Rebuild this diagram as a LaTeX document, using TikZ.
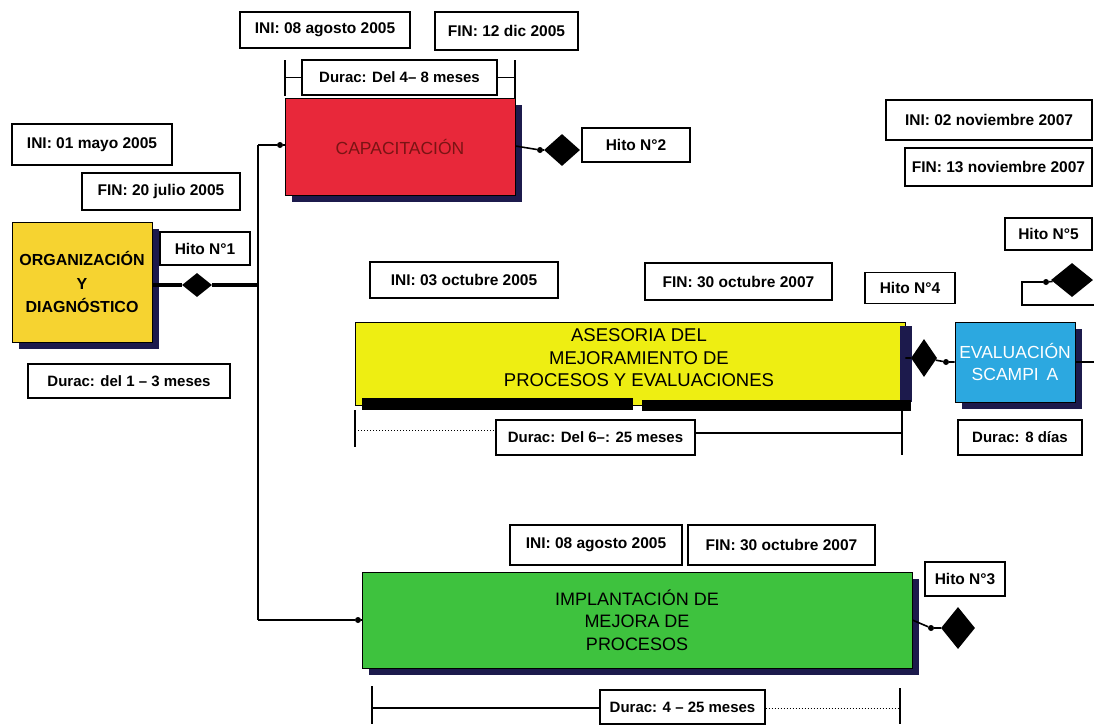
\documentclass[tikz,border=0pt]{standalone}
\usepackage{fontspec}
\setmainfont{Liberation Sans}
\usetikzlibrary{shapes.geometric,shadows}

\definecolor{orgyellow}{HTML}{F6D330}
\definecolor{capred}{HTML}{E8283A}
\definecolor{captext}{HTML}{7A1414}
\definecolor{asyellow}{HTML}{EEEE12}
\definecolor{evcyan}{HTML}{2CA8E0}
\definecolor{impgreen}{HTML}{3EC23E}
\definecolor{shadowc}{HTML}{1C1A4C}

\tikzset{
  lbl/.style={draw, line width=1.1pt, fill=white, inner sep=0pt,
    font=\bfseries\fontsize{15.5}{17}\selectfont},
  durlbl/.style={lbl, font=\bfseries\fontsize{15}{17}\selectfont},
  task/.style={draw=black, line width=0.8pt, inner sep=0pt, align=center,
    drop shadow={shadow xshift=7pt, shadow yshift=-7pt, fill=shadowc, opacity=1}},
  conn/.style={line width=1.6pt},
  tick/.style={line width=1.2pt},
  ms/.style={diamond, fill=black, inner sep=0pt},
  jdot/.style={circle, fill=black, inner sep=0pt, minimum size=6pt},
}

\begin{document}
\begin{tikzpicture}[x=1pt,y=-1pt]
\useasboundingbox (0,0) rectangle (1094,724);
\fill[white] (0,0) rectangle (1094,724);

% ---------- phase 1: organisation ----------
\node[lbl, minimum width=160pt, minimum height=41pt] (ini1) at (92,144.5) {INI: 01 mayo 2005};
\node[lbl, minimum width=158pt, minimum height=37pt] (fin1) at (161,191.5) {FIN: 20 julio 2005};
\node[lbl, minimum width=90pt, minimum height=33pt] (hito1) at (205,248.5) {Hito N°1};
\node[task, fill=orgyellow, minimum width=140pt, minimum height=120pt,
  font=\bfseries\fontsize{16}{23.5}\selectfont] (org) at (82,282)
  {ORGANIZACIÓN\\Y\\DIAGNÓSTICO};
\node[durlbl, minimum width=202pt, minimum height=34pt] (dur1) at (129,381) {Durac: del 1 – 3 meses};

% trunk line feeding the later phases
\coordinate (jn) at (258,285);
\coordinate (tt) at (258,145);
\coordinate (tb) at (258,620);
\node[ms, minimum width=30pt, minimum height=24pt] (m1) at (197,285) {};
\draw[line width=4pt] (org.east |- jn) -- (m1) -- (jn);
\draw[conn] (tt) -- (tb);

% ---------- phase 2: training ----------
\node[lbl, minimum width=170pt, minimum height=36pt] (ini2) at (325,30) {INI: 08 agosto 2005};
\node[lbl, minimum width=143pt, minimum height=38pt] (fin2) at (506.5,31) {FIN: 12 dic 2005};
\node[task, fill=capred, minimum width=230pt, minimum height=97pt,
  font=\fontsize{17.5}{19}\selectfont, text=captext] (cap) at (400,146.5) {CAPACITACIÓN};
\coordinate (c2l) at (285,60);
\coordinate (c2r) at (515,60);
\draw[tick] (c2l) -- ++(0,36);
\draw[tick] (c2r) -- ++(0,38);
\node[durlbl, minimum width=195pt, minimum height=35pt] (dur2) at (399.5,77.5) {Durac: Del 4– 8 meses};
\draw[tick] (c2l |- dur2) -- (dur2.west);
\draw[tick] (dur2.east) -- (c2r |- dur2);
\node[jdot] (d2a) at (280,145) {};
\draw[conn] (tt) -- (d2a) -- (cap.west |- d2a);
\node[lbl, minimum width=108pt, minimum height=34pt] (hito2) at (636,145) {Hito N°2};
\node[jdot] (d2b) at (540,150) {};
\node[ms, minimum width=36pt, minimum height=32pt] (m2) at (562,150) {};
\draw[conn] (cap.east |- 0,146) -- (d2b) -- (m2);

% ---------- phase 3: advisory ----------
\node[lbl, minimum width=188pt, minimum height=36pt] (ini3) at (464,280) {INI: 03 octubre 2005};
\node[lbl, minimum width=187pt, minimum height=37pt] (fin3) at (738.5,281.5) {FIN: 30 octubre 2007};
\node[lbl, minimum width=90pt, minimum height=31pt] (hito4) at (910,288) {Hito N°4};
\node[draw=black, line width=0.8pt, fill=asyellow, inner sep=0pt,
  minimum width=550pt, minimum height=83pt] (ases) at (630,363.5) {};
\node[align=center, inner sep=0pt, font=\fontsize{18.5}{22.5}\selectfont]
  (astext) at (639,358) {ASESORIA DEL\\MEJORAMIENTO DE\\PROCESOS Y EVALUACIONES};
\fill[shadowc] (ases.north east) ++(-5,4) rectangle ++(12,76);
\fill[black] (362,398) rectangle (633,410);
\fill[black] (642,400) rectangle (911,411);
\coordinate (c3l) at (355,410);
\coordinate (c3r) at (902,410);
\draw[tick] (c3l) -- ++(0,37);
\draw[tick] (c3r) -- ++(0,45);
\node[durlbl, minimum width=199pt, minimum height=35pt] (dur3) at (595.5,437.5) {Durac: Del 6–: 25 meses};
\draw[line width=1pt, dotted] (c3l |- 0,430) -- (dur3.west |- 0,430);
\draw[tick] (dur3.east |- 0,433) -- (c3r |- 0,433);

% ---------- phase 4: SCAMPI evaluation ----------
\node[lbl, minimum width=206pt, minimum height=40pt] (ini5) at (989,120) {INI: 02 noviembre 2007};
\node[lbl, minimum width=187pt, minimum height=38pt] (fin5) at (998.5,167) {FIN: 13 noviembre 2007};
\node[lbl, minimum width=87pt, minimum height=32pt] (hito5) at (1048.5,234) {Hito N°5};
\node[task, fill=evcyan, minimum width=120pt, minimum height=80pt, text=white,
  font=\fontsize{17.5}{22}\selectfont] (evalu) at (1015,362) {EVALUACIÓN\\SCAMPI\, A};
\node[durlbl, minimum width=124pt, minimum height=35pt] (dur4) at (1020,437.5) {Durac: 8 días};
\node[ms, minimum width=26pt, minimum height=38pt] (m4) at (924,358) {};
\node[jdot] (d4) at (946,362) {};
\draw[conn] (ases.east |- m4) -- (m4) -- (d4) -- (evalu.west |- d4);
\coordinate (eout) at (1094,362);
\draw[conn] (evalu.east) -- (eout);
\node[ms, minimum width=42pt, minimum height=34pt] (m5) at (1072,280) {};
\node[jdot] (d5) at (1046,282) {};
\coordinate (b5a) at (1022,282);
\coordinate (b5b) at (1022,305);
\coordinate (b5c) at (1094,305);
\draw[conn] (m5) -- (d5) -- (b5a) -- (b5b) -- (b5c);

% ---------- phase 5: process improvement ----------
\node[lbl, minimum width=172pt, minimum height=40pt] (ini4) at (596,545) {INI: 08 agosto 2005};
\node[lbl, minimum width=187pt, minimum height=40pt] (fin4) at (781.5,545) {FIN: 30 octubre 2007};
\node[lbl, minimum width=80pt, minimum height=34pt] (hito3) at (965,579) {Hito N°3};
\node[task, fill=impgreen, minimum width=550pt, minimum height=96pt,
  font=\fontsize{18}{22.5}\selectfont] (imp) at (637,620)
  {IMPLANTACIÓN DE\\MEJORA DE\\PROCESOS};
\node[jdot] (d1) at (358,620) {};
\draw[conn] (tb) -- (d1) -- (imp.west);
\node[jdot] (d3) at (931,628) {};
\node[ms, minimum width=34pt, minimum height=42pt] (m3) at (958,628) {};
\draw[conn] (imp.east) -- (d3) -- (m3);
\coordinate (c5l) at (372,686);
\coordinate (c5r) at (900,688);
\draw[tick] (c5l) -- (372,724);
\draw[tick] (c5r) -- (900,724);
\node[durlbl, minimum width=165pt, minimum height=34pt] (dur5) at (682.5,707) {Durac: 4 – 25 meses};
\draw[tick] (c5l |- 0,708) -- (dur5.west |- 0,708);
\draw[line width=1pt, dotted] (dur5.east |- 0,708) -- (c5r |- 0,708);
\end{tikzpicture}
\end{document}
